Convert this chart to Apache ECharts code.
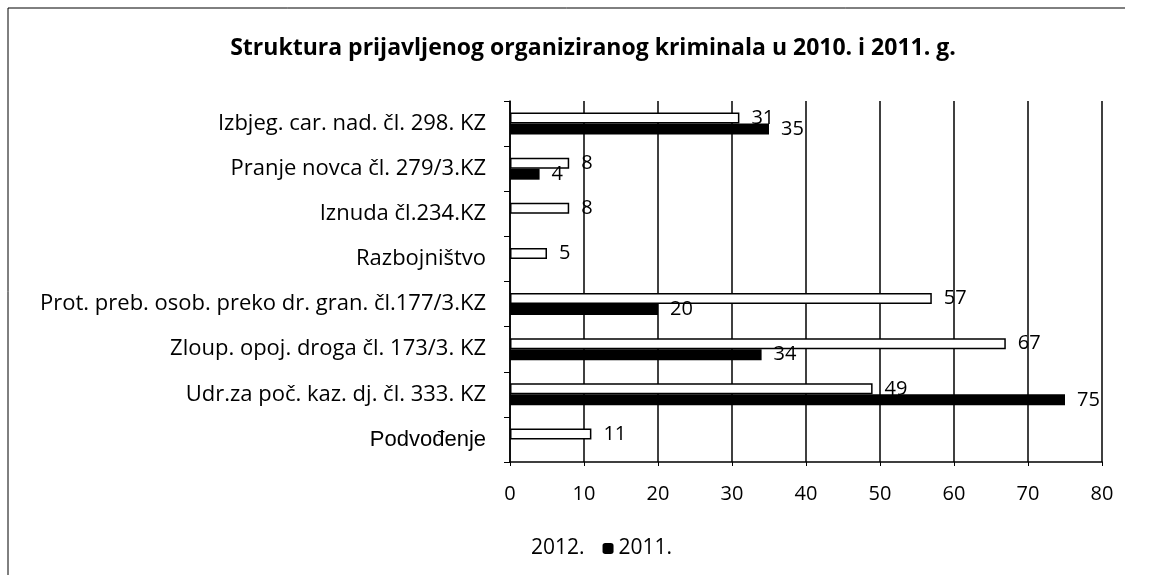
<!DOCTYPE html>
<html>
<head>
<meta charset="utf-8">
<script src="https://cdn.jsdelivr.net/npm/echarts@6/dist/echarts.min.js"></script>
<style>
  html, body { margin: 0; padding: 0; background: #fff; }
  #main { width: 1153px; height: 575px; }
</style>
</head>
<body>
<div id="main"></div>
<script>
// kategorije (odozgo prema dolje)
var categories = [
	'Izbjeg. car. nad. čl. 298. KZ',
	'Pranje novca čl. 279/3.KZ',
	'Iznuda čl.234.KZ',
	'Razbojništvo',
	'Prot. preb. osob. preko dr. gran. čl.177/3.KZ',
	'Zloup. opoj. droga čl. 173/3. KZ',
	'Udr.za poč. kaz. dj. čl. 333. KZ',
	'Podvođenje'
];
var values2012 = [31, 8, 8, 5, 57, 67, 49, 11];
var values2011 = [35, 4, null, null, 20, 34, 75, null];
var xTicks = [0, 10, 20, 30, 40, 50, 60, 70, 80];

(function() {
	var myChart = echarts.init(document.querySelector('#main'));
	var font = '"Open Sans", Lato, sans-serif';
	var option = {
		backgroundColor: '#fff',
		animation: false,
		title: {
			text: 'Struktura prijavljenog organiziranog kriminala u 2010. i 2011. g.',
			left: 588,
			textAlign: 'center',
			top: 32,
			textStyle: { fontFamily: font, fontWeight: 'bold', fontSize: 23, color: '#000' }
		},
		legend: {
			top: 533,
			left: 510,
			itemWidth: 11,
			itemHeight: 11,
			itemGap: 18,
			textStyle: { fontFamily: font, fontSize: 21, color: '#000' },
			data: [
				{ name: '2012.', itemStyle: { color: '#fff', borderWidth: 0 } },
				{ name: '2011.', itemStyle: { color: '#000' } }
			]
		},
		grid: {
			left: 510,
			right: 51,
			top: 101,
			bottom: 113
		},
		xAxis: {
			type: 'value',
			min: xTicks[0],
			max: xTicks[xTicks.length - 1],
			interval: 10,
			axisLine: { show: true, lineStyle: { color: '#000', width: 1.5 } },
			axisTick: { show: true, length: 4, lineStyle: { color: '#000' } },
			axisLabel: { margin: 22, fontFamily: font, fontSize: 20, color: '#000' },
			splitLine: { show: true, lineStyle: { color: '#000', width: 1.5 } }
		},
		yAxis: {
			type: 'category',
			inverse: true,
			data: categories,
			axisLine: { show: true, lineStyle: { color: '#000', width: 1.5 } },
			axisTick: { show: true, length: 6, lineStyle: { color: '#000' } },
			axisLabel: {
				margin: 24,
				fontFamily: font,
				fontSize: 22,
				color: '#000',
				formatter: function(v) {
					return v === 'Podvođenje' ? '{a|' + v + '}' : v;
				},
				rich: {
					a: { fontFamily: '"Liberation Sans", Arial, sans-serif', fontSize: 22, color: '#000' }
				}
			}
		},
		series: [
			{
				name: '2012.',
				type: 'bar',
				data: values2012,
				barWidth: 11,
				barGap: '0%',
				itemStyle: { color: '#fff', borderColor: '#000', borderWidth: 1.5 },
				label: {
					show: true, position: 'right', distance: 12,
					fontFamily: font, fontSize: 20, color: '#000'
				}
			},
			{
				name: '2011.',
				type: 'bar',
				data: values2011,
				barWidth: 11,
				itemStyle: { color: '#000' },
				label: {
					show: true, position: 'right', distance: 12,
					fontFamily: font, fontSize: 20, color: '#000'
				}
			}
		],
		graphic: [
			{ type: 'line', shape: { x1: 8, y1: 8, x2: 1125, y2: 8 }, style: { stroke: '#000', lineWidth: 1 } },
			{ type: 'line', shape: { x1: 8, y1: 8, x2: 8, y2: 575 }, style: { stroke: '#000', lineWidth: 1 } }
		]
	};
	myChart.setOption(option);
})();
</script>
</body>
</html>
